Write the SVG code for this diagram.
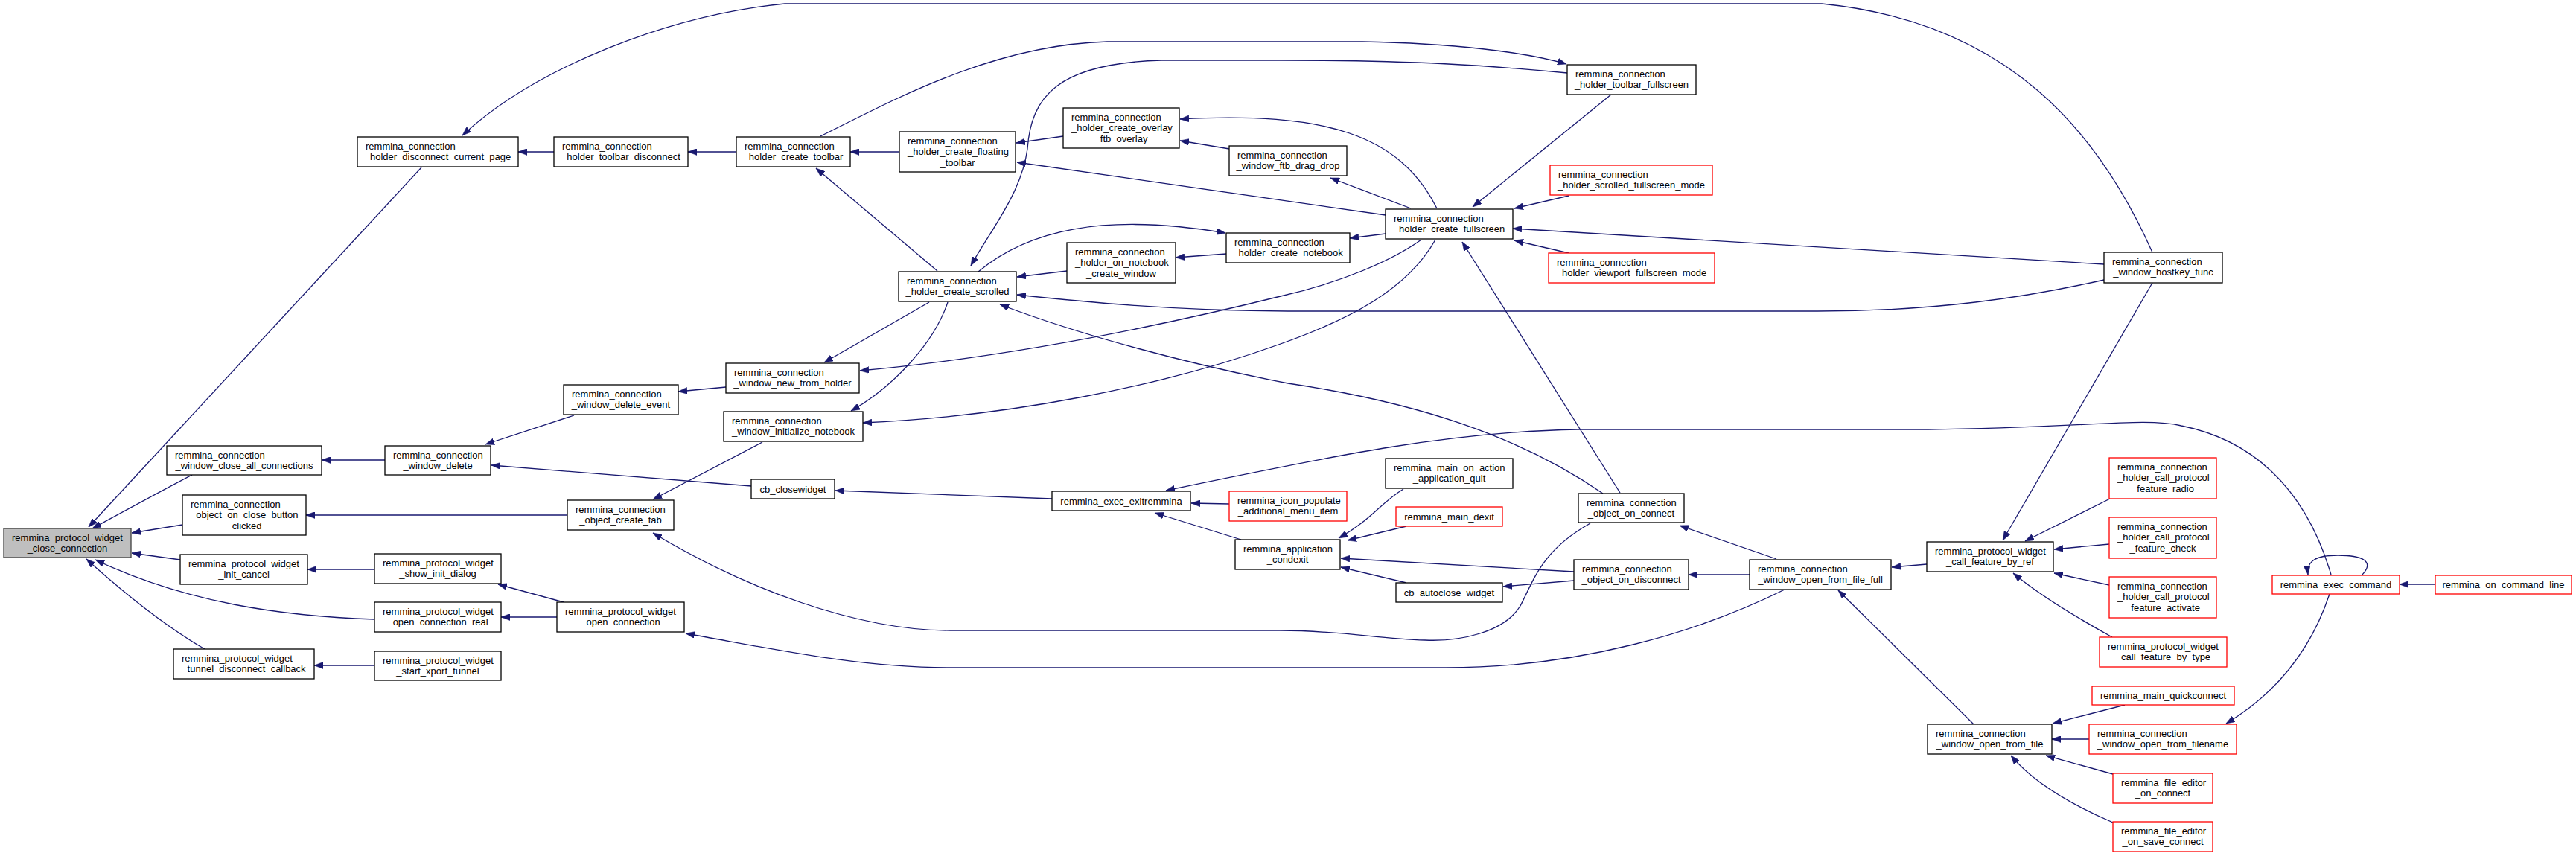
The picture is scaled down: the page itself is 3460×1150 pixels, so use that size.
<svg xmlns="http://www.w3.org/2000/svg" width="3460" height="1150" viewBox="0 0 3460 1150">
<defs>
<style>
.n rect{fill:#fff;stroke:#000;stroke-width:1.3}
.n.red rect{stroke:#ff0000}
.n.root rect{fill:#bfbfbf;stroke:#404040}
text{font-family:"Liberation Sans",Arial,sans-serif;font-size:13px;fill:#000}
.c{text-anchor:middle}
#edges path{fill:none;stroke:#191970;stroke-width:1.3;marker-end:url(#ah)}
</style>
<marker id="ah" viewBox="0 0 12 9" refX="12" refY="4.5" markerWidth="12" markerHeight="9" markerUnits="userSpaceOnUse" orient="auto"><path d="M0,0 L12,4.5 L0,9 z" fill="#191970" stroke="#191970" stroke-width="0.5"/></marker>
</defs>
<rect width="3460" height="1150" fill="#fff"/>
<g id="edges">
<path d="M566,225 L119,708"/>
<path d="M2891,339 C2820,180 2700,30 2447,5 L1054,5 C900,20 720,90 621,182"/>
<path d="M744,204 L696,204"/>
<path d="M989,204 L924,204"/>
<path d="M1208,204 L1142,204"/>
<path d="M1102,183 C1190,140 1330,60 1487,56 L1830,56 C1950,58 2050,70 2104,86"/>
<path d="M2105,98 C2000,88 1900,81 1720,81 L1560,81 C1420,85 1385,130 1380,200 C1372,260 1330,310 1304,357"/>
<path d="M1428,183 L1365,192"/>
<path d="M1861,289 L1366,218"/>
<path d="M1930,280 C1880,180 1780,150 1585,160"/>
<path d="M1651,200 L1585,189"/>
<path d="M1895,280 L1787,239"/>
<path d="M1259,364 L1096,226"/>
<path d="M1314,365 C1380,310 1480,285 1646,313"/>
<path d="M1433,364 L1366,372"/>
<path d="M1647,341 L1579,346"/>
<path d="M1861,314 L1813,320"/>
<path d="M2826,355 L2032,307"/>
<path d="M2826,376 C2720,400 2600,418 2441,418 L1730,418 C1580,418 1450,405 1366,396"/>
<path d="M1248,406 L1107,487"/>
<path d="M1273,406 C1255,460 1200,520 1143,552"/>
<path d="M2153,663 C2040,585 1900,540 1730,515 C1600,490 1450,450 1343,409"/>
<path d="M1909,322 C1870,350 1800,380 1720,398 C1550,440 1350,480 1155,498"/>
<path d="M1928,322 C1890,390 1810,430 1720,462 C1560,520 1350,560 1159,568"/>
<path d="M2176,662 L1964,325"/>
<path d="M2164,127 L1978,278"/>
<path d="M2107,263 L2034,280"/>
<path d="M2107,340 L2034,323"/>
<path d="M2891,380 L2690,726"/>
<path d="M2834,670 L2720,727"/>
<path d="M2833,731 L2759,738"/>
<path d="M2833,786 L2759,770"/>
<path d="M2837,856 C2790,830 2740,800 2704,770"/>
<path d="M2588,758 L2541,762"/>
<path d="M3131,772 C3095,650 3020,590 2930,572 C2880,560 2800,575 2590,577 L2119,577 C1950,580 1800,610 1566,659"/>
<path d="M3129,798 C3105,870 3060,930 2990,972"/>
<path d="M3172,773 C3190,755 3175,746 3140,746 C3110,746 3098,754 3100,772"/>
<path d="M3271,785 L3223,785"/>
<path d="M2854,947 L2757,972"/>
<path d="M2806,993 L2756,993"/>
<path d="M2838,1040 L2748,1015"/>
<path d="M2838,1105 C2780,1080 2730,1050 2701,1015"/>
<path d="M2651,973 L2469,793"/>
<path d="M2386,751 L2256,706"/>
<path d="M2350,772 L2268,772"/>
<path d="M2397,792 C2280,850 2120,897 1942,897 L1276,897 C1150,897 1030,870 921,851"/>
<path d="M2136,703 C2070,740 2060,780 2042,814 C2020,850 1960,862 1914,860 C1850,858 1800,847 1720,847 L1276,847 C1150,847 1000,790 877,716"/>
<path d="M1885,657 C1855,675 1840,700 1798,723"/>
<path d="M1889,707 L1810,726"/>
<path d="M2114,768 L1801,750"/>
<path d="M1889,783 L1801,762"/>
<path d="M2114,780 L2019,788"/>
<path d="M1667,725 L1551,689"/>
<path d="M1651,677 L1600,676"/>
<path d="M1413,670 L1122,659"/>
<path d="M1009,653 L660,625"/>
<path d="M1024,594 L877,671"/>
<path d="M975,520 L911,526"/>
<path d="M771,558 L652,597"/>
<path d="M517,618 L432,618"/>
<path d="M258,638 C225,655 170,685 124,710"/>
<path d="M245,705 L177,716"/>
<path d="M762,692 L411,692"/>
<path d="M242,752 L177,743"/>
<path d="M503,765 L413,765"/>
<path d="M757,809 L669,785"/>
<path d="M503,832 C380,828 250,810 128,752"/>
<path d="M748,829 L673,829"/>
<path d="M275,872 C220,840 170,800 116,751"/>
<path d="M503,894 L422,894"/>
</g>
<g id="n_close_connection" class="n root"><rect x="5" y="710" width="171" height="39"/><text x="16" y="726.5">remmina_protocol_widget</text><text class="c" x="90.5" y="741">_close_connection</text></g>
<g id="n_disconnect_current_page" class="n"><rect x="480" y="184" width="216" height="40"/><text x="491" y="200.5">remmina_connection</text><text class="c" x="588" y="215">_holder_disconnect_current_page</text></g>
<g id="n_toolbar_disconnect" class="n"><rect x="744" y="184" width="180" height="40"/><text x="755" y="200.5">remmina_connection</text><text class="c" x="834" y="215">_holder_toolbar_disconnect</text></g>
<g id="n_create_toolbar" class="n"><rect x="989" y="184" width="153" height="40"/><text x="1000" y="200.5">remmina_connection</text><text class="c" x="1065.5" y="215">_holder_create_toolbar</text></g>
<g id="n_floating_toolbar" class="n"><rect x="1208" y="177" width="156" height="54"/><text x="1219" y="193.5">remmina_connection</text><text x="1219" y="208">_holder_create_floating</text><text class="c" x="1286" y="222.5">_toolbar</text></g>
<g id="n_overlay_ftb" class="n"><rect x="1428" y="145" width="156" height="54"/><text x="1439" y="161.5">remmina_connection</text><text x="1439" y="176">_holder_create_overlay</text><text class="c" x="1506" y="190.5">_ftb_overlay</text></g>
<g id="n_ftb_drag_drop" class="n"><rect x="1651" y="196" width="158" height="40"/><text x="1662" y="212.5">remmina_connection</text><text class="c" x="1730" y="227">_window_ftb_drag_drop</text></g>
<g id="n_toolbar_fullscreen" class="n"><rect x="2105" y="87" width="173" height="40"/><text x="2116" y="103.5">remmina_connection</text><text class="c" x="2191.5" y="118">_holder_toolbar_fullscreen</text></g>
<g id="n_create_fullscreen" class="n"><rect x="1861" y="281" width="171" height="40"/><text x="1872" y="297.5">remmina_connection</text><text class="c" x="1946.5" y="312">_holder_create_fullscreen</text></g>
<g id="n_scrolled_fullscreen_mode" class="n red"><rect x="2082" y="222" width="218" height="40"/><text x="2093" y="238.5">remmina_connection</text><text class="c" x="2191" y="253">_holder_scrolled_fullscreen_mode</text></g>
<g id="n_viewport_fullscreen_mode" class="n red"><rect x="2080" y="340" width="223" height="40"/><text x="2091" y="356.5">remmina_connection</text><text class="c" x="2191.5" y="371">_holder_viewport_fullscreen_mode</text></g>
<g id="n_hostkey_func" class="n"><rect x="2826" y="339" width="159" height="41"/><text x="2837" y="355.5">remmina_connection</text><text class="c" x="2905.5" y="370">_window_hostkey_func</text></g>
<g id="n_create_scrolled" class="n"><rect x="1207" y="365" width="158" height="40"/><text x="1218" y="381.5">remmina_connection</text><text class="c" x="1286" y="396">_holder_create_scrolled</text></g>
<g id="n_on_notebook_create_window" class="n"><rect x="1433" y="326" width="146" height="54"/><text x="1444" y="342.5">remmina_connection</text><text x="1444" y="357">_holder_on_notebook</text><text class="c" x="1506" y="371.5">_create_window</text></g>
<g id="n_create_notebook" class="n"><rect x="1647" y="313" width="166" height="40"/><text x="1658" y="329.5">remmina_connection</text><text class="c" x="1730" y="344">_holder_create_notebook</text></g>
<g id="n_new_from_holder" class="n"><rect x="975" y="488" width="179" height="40"/><text x="986" y="504.5">remmina_connection</text><text class="c" x="1064.5" y="519">_window_new_from_holder</text></g>
<g id="n_delete_event" class="n"><rect x="757" y="517" width="154" height="40"/><text x="768" y="533.5">remmina_connection</text><text class="c" x="834" y="548">_window_delete_event</text></g>
<g id="n_initialize_notebook" class="n"><rect x="972" y="553" width="187" height="40"/><text x="983" y="569.5">remmina_connection</text><text class="c" x="1065.5" y="584">_window_initialize_notebook</text></g>
<g id="n_close_all_connections" class="n"><rect x="224" y="599" width="208" height="39"/><text x="235" y="615.5">remmina_connection</text><text class="c" x="328" y="630">_window_close_all_connections</text></g>
<g id="n_window_delete" class="n"><rect x="517" y="599" width="142" height="39"/><text x="528" y="615.5">remmina_connection</text><text class="c" x="588" y="630">_window_delete</text></g>
<g id="n_close_button_clicked" class="n"><rect x="245" y="665" width="166" height="54"/><text x="256" y="681.5">remmina_connection</text><text x="256" y="696">_object_on_close_button</text><text class="c" x="328" y="710.5">_clicked</text></g>
<g id="n_create_tab" class="n"><rect x="762" y="672" width="143" height="40"/><text x="773" y="688.5">remmina_connection</text><text class="c" x="833.5" y="703">_object_create_tab</text></g>
<g id="n_cb_closewidget" class="n"><rect x="1009" y="644" width="112" height="26"/><text class="c" x="1065" y="661.5">cb_closewidget</text></g>
<g id="n_exec_exitremmina" class="n"><rect x="1413" y="660" width="186" height="26"/><text class="c" x="1506" y="677.5">remmina_exec_exitremmina</text></g>
<g id="n_icon_populate" class="n red"><rect x="1651" y="660" width="158" height="40"/><text x="1662" y="676.5">remmina_icon_populate</text><text class="c" x="1730" y="691">_additional_menu_item</text></g>
<g id="n_condexit" class="n"><rect x="1659" y="725" width="141" height="40"/><text x="1670" y="741.5">remmina_application</text><text class="c" x="1729.5" y="756">_condexit</text></g>
<g id="n_on_action_quit" class="n"><rect x="1861" y="616" width="171" height="40"/><text x="1872" y="632.5">remmina_main_on_action</text><text class="c" x="1946.5" y="647">_application_quit</text></g>
<g id="n_main_dexit" class="n red"><rect x="1875" y="681" width="143" height="26"/><text class="c" x="1946.5" y="698.5">remmina_main_dexit</text></g>
<g id="n_cb_autoclose_widget" class="n"><rect x="1875" y="783" width="143" height="26"/><text class="c" x="1946.5" y="800.5">cb_autoclose_widget</text></g>
<g id="n_object_on_connect" class="n"><rect x="2120" y="663" width="142" height="39"/><text x="2131" y="679.5">remmina_connection</text><text class="c" x="2191" y="694">_object_on_connect</text></g>
<g id="n_object_on_disconnect" class="n"><rect x="2114" y="752" width="154" height="40"/><text x="2125" y="768.5">remmina_connection</text><text class="c" x="2191" y="783">_object_on_disconnect</text></g>
<g id="n_open_from_file_full" class="n"><rect x="2350" y="752" width="190" height="40"/><text x="2361" y="768.5">remmina_connection</text><text class="c" x="2445" y="783">_window_open_from_file_full</text></g>
<g id="n_call_feature_by_ref" class="n"><rect x="2588" y="728" width="170" height="40"/><text x="2599" y="744.5">remmina_protocol_widget</text><text class="c" x="2673" y="759">_call_feature_by_ref</text></g>
<g id="n_feature_radio" class="n red"><rect x="2833" y="615" width="144" height="55"/><text x="2844" y="631.5">remmina_connection</text><text x="2844" y="646">_holder_call_protocol</text><text class="c" x="2905" y="660.5">_feature_radio</text></g>
<g id="n_feature_check" class="n red"><rect x="2833" y="695" width="144" height="55"/><text x="2844" y="711.5">remmina_connection</text><text x="2844" y="726">_holder_call_protocol</text><text class="c" x="2905" y="740.5">_feature_check</text></g>
<g id="n_feature_activate" class="n red"><rect x="2833" y="775" width="144" height="55"/><text x="2844" y="791.5">remmina_connection</text><text x="2844" y="806">_holder_call_protocol</text><text class="c" x="2905" y="820.5">_feature_activate</text></g>
<g id="n_call_feature_by_type" class="n red"><rect x="2820" y="856" width="171" height="40"/><text x="2831" y="872.5">remmina_protocol_widget</text><text class="c" x="2905.5" y="887">_call_feature_by_type</text></g>
<g id="n_main_quickconnect" class="n red"><rect x="2810" y="922" width="191" height="25"/><text class="c" x="2905.5" y="939">remmina_main_quickconnect</text></g>
<g id="n_open_from_filename" class="n red"><rect x="2806" y="973" width="198" height="40"/><text x="2817" y="989.5">remmina_connection</text><text class="c" x="2905" y="1004">_window_open_from_filename</text></g>
<g id="n_open_from_file" class="n"><rect x="2589" y="973" width="167" height="40"/><text x="2600" y="989.5">remmina_connection</text><text class="c" x="2672.5" y="1004">_window_open_from_file</text></g>
<g id="n_file_editor_on_connect" class="n red"><rect x="2838" y="1039" width="134" height="40"/><text x="2849" y="1055.5">remmina_file_editor</text><text class="c" x="2905" y="1070">_on_connect</text></g>
<g id="n_file_editor_on_save_connect" class="n red"><rect x="2838" y="1104" width="134" height="40"/><text x="2849" y="1120.5">remmina_file_editor</text><text class="c" x="2905" y="1135">_on_save_connect</text></g>
<g id="n_exec_command" class="n red"><rect x="3052" y="773" width="171" height="25"/><text class="c" x="3137.5" y="790">remmina_exec_command</text></g>
<g id="n_on_command_line" class="n red"><rect x="3271" y="773" width="183" height="25"/><text class="c" x="3362.5" y="790">remmina_on_command_line</text></g>
<g id="n_init_cancel" class="n"><rect x="242" y="745" width="171" height="40"/><text x="253" y="761.5">remmina_protocol_widget</text><text class="c" x="327.5" y="776">_init_cancel</text></g>
<g id="n_show_init_dialog" class="n"><rect x="503" y="744" width="170" height="40"/><text x="514" y="760.5">remmina_protocol_widget</text><text class="c" x="588" y="775">_show_init_dialog</text></g>
<g id="n_open_connection_real" class="n"><rect x="503" y="809" width="170" height="40"/><text x="514" y="825.5">remmina_protocol_widget</text><text class="c" x="588" y="840">_open_connection_real</text></g>
<g id="n_open_connection" class="n"><rect x="748" y="809" width="171" height="40"/><text x="759" y="825.5">remmina_protocol_widget</text><text class="c" x="833.5" y="840">_open_connection</text></g>
<g id="n_tunnel_disconnect_callback" class="n"><rect x="233" y="872" width="189" height="40"/><text x="244" y="888.5">remmina_protocol_widget</text><text class="c" x="327.5" y="903">_tunnel_disconnect_callback</text></g>
<g id="n_start_xport_tunnel" class="n"><rect x="503" y="875" width="170" height="39"/><text x="514" y="891.5">remmina_protocol_widget</text><text class="c" x="588" y="906">_start_xport_tunnel</text></g>
</svg>
